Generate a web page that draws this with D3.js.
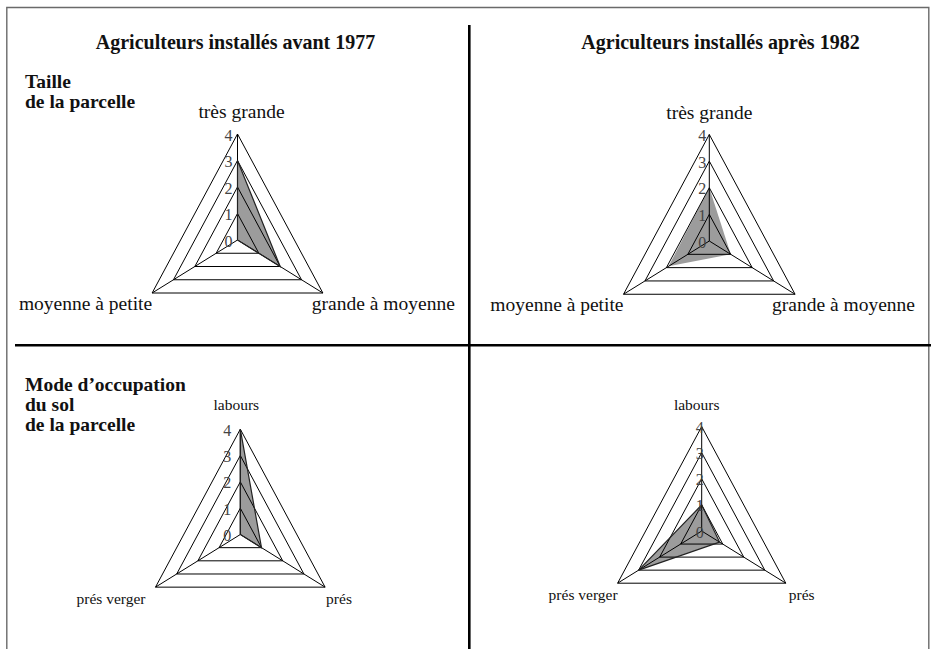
<!DOCTYPE html>
<html><head><meta charset="utf-8">
<script src="https://cdn.jsdelivr.net/npm/d3@7"></script>
<style>
body{margin:0;background:#fff;}
svg{display:block;}
</style></head>
<body>
<svg id="chart" width="931" height="649"></svg>
<script>
// ---- data ----
const columnTitles = ["Agriculteurs installés avant 1977", "Agriculteurs installés après 1982"];
const rowTitleTaille = ["Taille", "de la parcelle"];
const rowTitleMode = ["Mode d’occupation", "du sol", "de la parcelle"];
const tailleCategories = ["très grande", "grande à moyenne", "moyenne à petite"];
const modeCategories = ["labours", "prés", "prés verger"];
const tailleAvant1977 = [3, 2, 0];
const tailleApres1982 = [2, 1, 1.9];
const modeAvant1977 = [4, 1, 0];
const modeApres1982 = [1, 0.85, 3];
const levelTicks = [0, 1, 2, 3, 4];

// ---- layout ----
const svg = d3.select("#chart");
const serif = "'Liberation Serif','Times New Roman',serif";

const panels = [
  {cats: tailleCategories, vals: tailleAvant1977, cx: 237.5, cy: 240, R: 106, stroke: true,
   numDx: -5, numAnchor: "end", catSize: 19.5,
   lab: [{dx: 4, dy: -16, a: "middle"}, {dx: -11, dy: 17, a: "start"}, {dx: 0, dy: 17, a: "end"}]},
  {cats: tailleCategories, vals: tailleApres1982, cx: 709.3, cy: 241, R: 106.5, stroke: false,
   numDx: -3, numAnchor: "end", catSize: 19.5,
   lab: [{dx: 0, dy: -16, a: "middle"}, {dx: -23, dy: 17, a: "start"}, {dx: 0, dy: 17, a: "end"}]},
  {cats: modeCategories, vals: modeAvant1977, cx: 240.3, cy: 534.5, R: 105.3, stroke: true,
   numDx: -9, numAnchor: "end", catSize: 15.5,
   lab: [{dx: -4, dy: -19, a: "middle"}, {dx: 1, dy: 17, a: "start"}, {dx: -10, dy: 17, a: "end"}]},
  {cats: modeCategories, vals: modeApres1982, cx: 701.7, cy: 531, R: 104.4, stroke: true,
   numDx: -2, numAnchor: "middle", catSize: 15.5,
   lab: [{dx: -5, dy: -17, a: "middle"}, {dx: 3, dy: 17, a: "start"}, {dx: 0, dy: 17, a: "end"}]}
];
const squeeze = 0.93;
const angles = [0, 2 * Math.PI / 3, 4 * Math.PI / 3];

panels.forEach(p => {
  const r = d3.scaleLinear().domain([0, 4]).range([0, p.R]);
  const pt = (a, v) => [p.cx + r(v) * Math.sin(a) * squeeze, p.cy - r(v) * Math.cos(a)];
  const g = svg.append("g");
  const line = d3.line().curve(d3.curveLinearClosed);
  const poly = p.vals.map((v, i) => pt(angles[i], v));

  // series fill
  g.append("path").attr("d", line(poly)).attr("fill", "#9c9c9c").attr("stroke", "none");

  // grid triangles
  levelTicks.filter(t => t > 0).forEach(t => {
    g.append("path").attr("d", line(angles.map(a => pt(a, t))))
      .attr("fill", "none").attr("stroke", "#000").attr("stroke-width", 1);
  });
  // spokes
  angles.forEach(a => {
    const [x1, y1] = pt(a, 0), [x2, y2] = pt(a, 4);
    g.append("line").attr("x1", x1).attr("y1", y1).attr("x2", x2).attr("y2", y2)
      .attr("stroke", "#000").attr("stroke-width", 1);
  });
  // series outline
  if (p.stroke) {
    g.append("path").attr("d", line(poly)).attr("fill", "none")
      .attr("stroke", "#222").attr("stroke-width", 1.2);
  }
  // tick numbers
  levelTicks.forEach(t => {
    const [x, y] = pt(0, t);
    g.append("text").attr("x", x + p.numDx).attr("y", y + 6.5)
      .attr("text-anchor", p.numAnchor)
      .attr("font-family", serif).attr("font-size", 16).attr("fill", "#444")
      .text(t);
  });
  // category labels
  p.cats.forEach((c, i) => {
    const [x, y] = pt(angles[i], 4);
    const l = p.lab[i];
    g.append("text").attr("x", x + l.dx).attr("y", y + l.dy)
      .attr("text-anchor", l.a)
      .attr("font-family", serif).attr("font-size", p.catSize).attr("fill", "#111")
      .text(c);
  });
});

// column titles
[235.5, 720.5].forEach((x, i) => {
  svg.append("text").attr("x", x).attr("y", 49).attr("text-anchor", "middle")
    .attr("font-family", serif).attr("font-weight", "bold").attr("font-size", 20)
    .attr("fill", "#111").text(columnTitles[i]);
});
// row titles (one text block each, lines as tspans)
function block(lines, y0, step) {
  const t = svg.append("text").attr("x", 25).attr("y", y0)
    .attr("font-family", serif).attr("font-weight", "bold").attr("font-size", 19.5)
    .attr("fill", "#111");
  lines.forEach((s, i) => t.append("tspan").attr("x", 25).attr("y", y0 + i * step).text(s));
}
block(rowTitleTaille, 88, 20);
block(rowTitleMode, 391, 20);

// frame and dividers
svg.append("path").attr("d", "M6.8,660 V7.5 H928.8 V660")
  .attr("fill", "none").attr("stroke", "#6a6a6a").attr("stroke-width", 1.4);
svg.append("line").attr("x1", 469.3).attr("y1", 25).attr("x2", 469.3).attr("y2", 649)
  .attr("stroke", "#000").attr("stroke-width", 2.6);
svg.append("line").attr("x1", 15).attr("y1", 345.2).attr("x2", 931).attr("y2", 345.2)
  .attr("stroke", "#000").attr("stroke-width", 2.4);
</script>
</body></html>
